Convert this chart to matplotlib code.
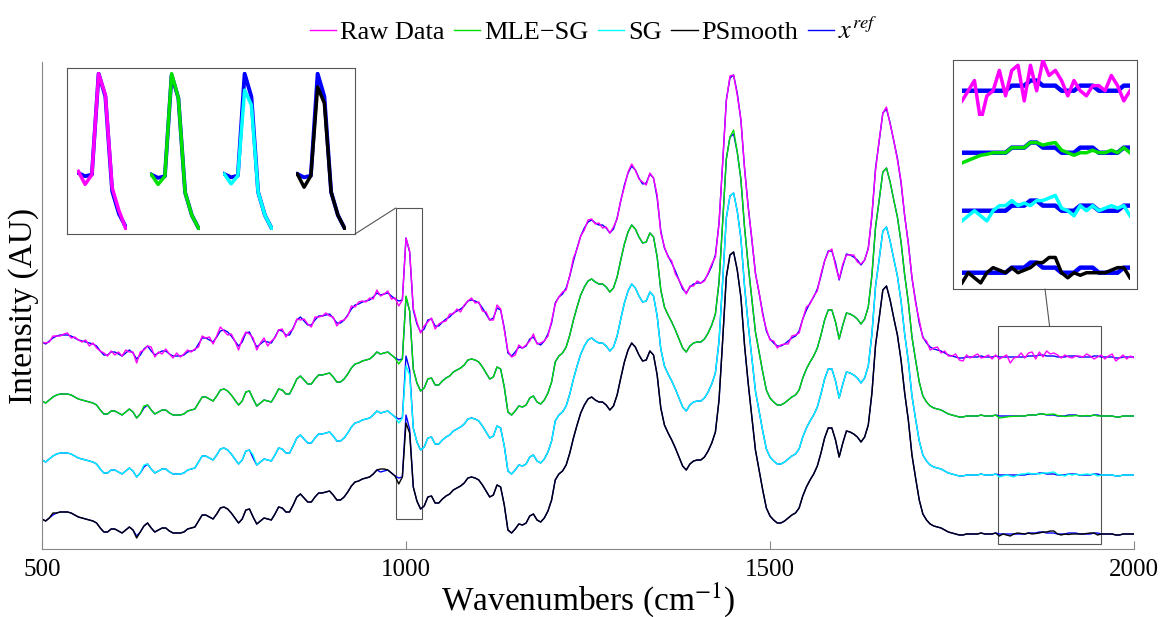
import numpy as np
import matplotlib.pyplot as plt
from matplotlib.patches import Rectangle, ConnectionPatch

plt.rcParams['font.family'] = ['Liberation Serif', 'DejaVu Serif']
plt.rcParams['mathtext.fontset'] = 'stix'

# wavenumber grid (cm^-1)
wavenumber = np.arange(500, 2001, 5)

# reference spectrum x_ref (arbitrary units)
x_ref = np.array([
    30, 28, 31, 34, 36, 37, 37, 37, 36, 34, 32, 31, 30, 29, 28, 26, 21, 17, 17, 20,      # 500-595
    20, 18, 16, 19, 22, 19, 13, 17, 23, 26, 21, 17, 19, 21, 21, 18, 16, 16, 16, 17,      # 600-695
    20, 21, 22, 28, 34, 34, 32, 30, 35, 41, 42, 40, 36, 31, 26, 30, 39, 40, 32, 25,      # 700-795
    28, 31, 30, 29, 35, 42, 41, 37, 37, 44, 52, 55, 51, 47, 47, 52, 56, 56, 57, 58,      # 800-895
    54, 49, 49, 52, 57, 63, 67, 68, 70, 71, 72, 75, 79, 77, 78, 79, 76, 73, 71, 72,      # 900-995
    134, 120, 62, 48, 40, 43, 52, 53, 46, 46, 50, 53, 55, 59, 61, 63, 66, 71, 72, 71,    # 1000-1095
    69, 64, 58, 52, 54, 64, 62, 44, 19, 16, 20, 25, 24, 26, 33, 35, 29, 27, 31, 38,      # 1100-1195
    49, 69, 75, 78, 84, 96, 111, 124, 136, 144, 150, 152, 149, 147, 147, 144, 139, 143, 154, 171,  # 1200-1295
    187, 199, 206, 202, 194, 188, 189, 198, 194, 174, 141, 124, 116, 109, 101, 92, 83, 79, 85, 88,  # 1300-1395
    89, 89, 92, 98, 106, 117, 149, 209, 272, 294, 297, 279, 252, 204, 166, 132, 99, 79, 59, 41,    # 1400-1495
    33, 29, 26, 26, 28, 31, 34, 36, 41, 53, 62, 69, 75, 83, 96, 111, 121, 121, 109, 92,  # 1500-1595
    106, 118, 117, 115, 112, 107, 112, 124, 156, 204, 231, 259, 263, 249, 231, 214, 189, 156, 129, 94,  # 1600-1695
    71, 49, 35, 29, 25, 23, 22, 21, 19, 17, 16, 15, 14, 14, 15, 15, 15, 15, 16, 15,      # 1700-1795
    15, 15, 16, 15, 15, 15, 15, 15, 15, 15, 15, 16, 16, 16, 17, 17, 16, 16, 16, 15,      # 1800-1895
    15, 15, 16, 16, 16, 15, 15, 15, 15, 16, 16, 15, 15, 15, 15, 14, 14, 15, 15, 15,      # 1900-1995
    15])                                                                                  # 2000

# raw data = reference + measurement noise
raw_noise = np.array([
    0, 1, -1, 2, 0, -1, 1, 2, -2, 1, 0, -1, 2, -3, 1, -2, 0, 2, -1, 1,
    -3, 2, 0, 3, -2, 1, -4, 3, -1, 0, 4, -2, 1, -3, 2, 0, -2, 3, -1, 1,
    2, -1, 1, -3, 2, 0, 3, -2, 1, 4, -1, -3, 2, 0, -4, 3, 1, -2, 2, -3,
    1, 3, -4, 2, -1, 0, 2, -2, 3, -1, 1, -3, 2, 1, -2, 3, -1, 0, 2, -2,
    1, -3, 2, 0, -1, 3, -2, 2, 1, -1, 2, -2, 3, -1, 0, 2, -3, 1, -5, 0,
    0, 1, 2, 2, -1, 3, -2, 1, -3, 2, 0, -2, 3, -1, 2, -3, 1, 0, 2, -2,
    1, -3, 2, 0, -2, 3, 1, -2, 2, -1, -3, 2, 0, 1, -2, 3, -1, 2, 0, -2,
    2, -1, 0, 2, -2, 1, 3, -1, 0, -2, 2, 1, -1, 2, -3, 1, 0, 2, -1, 1,
    -2, 1, 2, 0, -1, 2, -2, 1, 0, 3, -2, 1, -1, 2, -3, 0, 2, -1, 1, -2,
    2, 0, -1, 1, 2, -2, 0, 1, -1, 2, 0, -2, 1, 0, -1, 2, -1, 1, -2, 2,
    -1, 2, -2, 1, 0, -3, 2, 1, -2, 0, 3, -1, 1, -2, 2, 0, -1, 2, -3, 1,
    2, -1, 0, 2, -2, 1, 0, -1, 2, -2, 1, 0, 2, -1, 1, -2, 2, 0, -1, 1,
    -2, 3, -1, 2, -3, 1, 3, -2, 2, -1, 0, 3, -2, -3, 2, -1, 1, 3, -2, 0,
    2, -2, 1, -2, 0, 2, -6, -1, 0, 4, -1, 3, 4, -3, 3, -2, 5, 2, 3, 2,
    -1, 2, -1, -2, 0, 1, 0, 3, 1, -3, -1, 2, -2, 1, 3, -3, 0, 2, -2, 1,
    -1])

# deviations of the smoothed estimates from x_ref (wavenumber: deviation)
mle_sg_dev = {640: 2, 990: -4, 1000: 1, 1450: 4,
              1815: -2, 1820: -1.5, 1825: -1, 1830: -0.5, 1835: -0.3,
              1880: 0.5, 1885: 0.8, 1890: 1, 1895: 0.5, 1905: -0.5,
              1910: -1, 1915: -1, 1920: -0.5, 1935: 0.5, 1950: -1}
sg_dev = {640: 2, 790: 3, 990: -4, 1000: -10, 1005: -5,
          1815: -2, 1820: -1, 1830: -1, 1835: -2, 1845: 1, 1850: 1, 1855: 1,
          1865: 0.5, 1870: -1, 1880: 1, 1885: 1.5, 1890: 2, 1895: 0.5,
          1905: -1, 1915: -1, 1930: 0.5, 1935: 1, 1940: 0.5, 1950: -2}
psmooth_dev = {515: 2, 630: -2, 965: 3, 970: 2, 990: -6, 1000: -8, 1005: -4,
               1815: -2, 1825: -1, 1830: -2, 1840: 1, 1845: 0.5, 1860: -1,
               1865: -0.5, 1870: -1, 1880: 1, 1885: 2, 1890: 2, 1900: -1,
               1910: -1.5, 1915: -1, 1920: -1, 1935: 0.5, 1940: 1, 1950: -2}

names = ['Raw Data', 'MLE\u2212SG', 'SG', 'PSmooth']
colors = ['#ff00ff', '#00e000', '#00ffff', 'black']
offsets = [177, 118, 59, 0]
ref_color = '#0000ff'


def with_dev(dev):
    y = x_ref.astype(float).copy()
    for wn, d in dev.items():
        y[wavenumber == wn] += d
    return y


series = [x_ref + raw_noise, with_dev(mle_sg_dev), with_dev(sg_dev), with_dev(psmooth_dev)]

W, H = 1164, 617
fig = plt.figure(figsize=(W / 100, H / 100), dpi=100)
ax = fig.add_axes([42 / W, 1 - 549 / H, 1092 / W, 487 / H])

for y, off in zip(series, offsets):
    ax.plot(wavenumber, x_ref + off, color=ref_color, lw=1.0)
handles = []
for y, off, c, n in zip(series, offsets, colors, names):
    h, = ax.plot(wavenumber, y + off, color=c, lw=1.0, label=n)
    handles.append(h)
href, = ax.plot([], [], color=ref_color, lw=1.0, label='$x^{ref}$')
handles.append(href)

ax.set_xlim(500, 2000)
ax.set_ylim(0, 487)
ax.set_xticks([500, 1000, 1500, 2000])
ax.set_yticks([])
ax.tick_params(axis='x', direction='in', length=6, color='#888888', labelsize=18, pad=7)
for s in ['top', 'right']:
    ax.spines[s].set_visible(False)
for s in ['left', 'bottom']:
    ax.spines[s].set_color('#888888')
ax.set_xlabel('Wavenumbers (cm$^{-1}$)', fontsize=24, labelpad=0)
ax.set_ylabel('Intensity (AU)', fontsize=24, labelpad=2)

fig.legend(handles=handles, loc='upper center', bbox_to_anchor=(0.51, 1.01), ncol=5,
           frameon=False, fontsize=19, handlelength=1.0, handletextpad=0.15,
           columnspacing=0.35)

box_c = '#555555'

# zoom windows
win1 = (wavenumber >= 985) & (wavenumber <= 1020)
win2 = (wavenumber >= 1815) & (wavenumber <= 1950)

lo1 = (series[3][win1] + offsets[3]).min() - 10
hi1 = (series[0][win1] + offsets[0]).max() + 30
ax.add_patch(Rectangle((986, lo1), 36, hi1 - lo1, fill=False, ec=box_c, lw=0.8))
lo2 = (series[3][win2] + offsets[3]).min() - 8
hi2 = (series[0][win2] + offsets[0]).max() + 25
ax.add_patch(Rectangle((1813, lo2), 142, hi2 - lo2, fill=False, ec=box_c, lw=0.8))

# left inset: the 1000 cm^-1 peak
ins1 = fig.add_axes([67 / W, 1 - 234 / H, 288 / W, 166 / H])
ins1.set_xticks([])
ins1.set_yticks([])
for s in ins1.spines.values():
    s.set_color(box_c)
    s.set_linewidth(0.8)
for i, (y, c) in enumerate(zip(series, colors)):
    sub = fig.add_axes([(77 + 73 * i) / W, 1 - 230 / H, 50 / W, 158 / H])
    sub.axis('off')
    sub.plot(wavenumber[win1], x_ref[win1], color=ref_color, lw=2.8)
    sub.plot(wavenumber[win1], y[win1], color=c, lw=2.5)
    vals = np.concatenate([x_ref[win1], y[win1]])
    sub.set_ylim(vals.min() - 1, vals.max() + 1)
    sub.set_xlim(984, 1021)

# right inset: flat region
ins2 = fig.add_axes([953 / W, 1 - 289 / H, 184 / W, 229 / H])
ins2.set_xticks([])
ins2.set_yticks([])
for s in ins2.spines.values():
    s.set_color(box_c)
    s.set_linewidth(0.8)
centers = [88, 150, 208, 270]
for y, c, cy in zip(series, colors, centers):
    sub = fig.add_axes([962 / W, 1 - (cy + 28) / H, 168 / W, 56 / H])
    sub.axis('off')
    sub.plot(wavenumber[win2], x_ref[win2], color=ref_color, lw=3.2)
    sub.plot(wavenumber[win2], y[win2], color=c, lw=2.5)
    m = x_ref[win2].mean()
    sub.set_ylim(m - 5.5, m + 5.5)
    sub.set_xlim(1815, 1950)

con1 = ConnectionPatch(xyA=(1, 0), coordsA=ins1.transAxes, xyB=(986, hi1),
                       coordsB=ax.transData, color=box_c, lw=0.8)
fig.add_artist(con1)
con2 = ConnectionPatch(xyA=(0.5, 0), coordsA=ins2.transAxes, xyB=(1884, hi2),
                       coordsB=ax.transData, color=box_c, lw=0.8)
fig.add_artist(con2)

fig.savefig('out.png', dpi=100)
